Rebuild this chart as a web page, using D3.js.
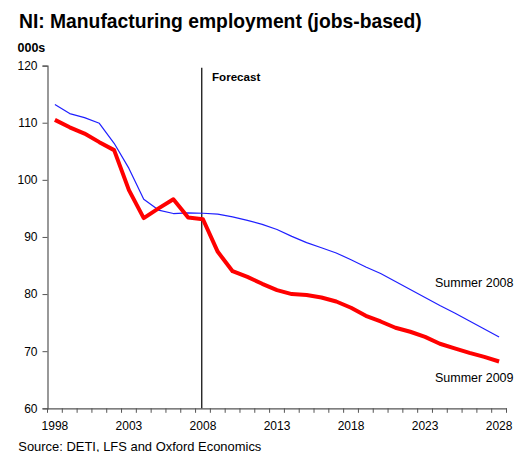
<!DOCTYPE html>
<html>
<head>
<meta charset="utf-8">
<script src="https://cdn.jsdelivr.net/npm/d3@7"></script>
<style>
  html, body { margin: 0; padding: 0; background: #fff; }
  svg { display: block; font-family: "Liberation Sans", Arial, sans-serif; }
</style>
</head>
<body>
<svg id="chart" width="519" height="452"></svg>
<script>
// Northern Ireland manufacturing employment, thousands of jobs
const years = [1998, 1999, 2000, 2001, 2002, 2003, 2004, 2005, 2006, 2007,
               2008, 2009, 2010, 2011, 2012, 2013, 2014, 2015, 2016, 2017,
               2018, 2019, 2020, 2021, 2022, 2023, 2024, 2025, 2026, 2027, 2028];

const summer2008 = [113.2, 111.6, 110.9, 109.9, 106.4, 102.0, 96.6, 94.7, 94.1, 94.2,
                    94.15, 94.0, 93.5, 92.9, 92.2, 91.3, 90.1, 89.0, 88.1, 87.2,
                    86.0, 84.75, 83.6, 82.2, 80.8, 79.4, 78.0, 76.7, 75.3, 73.9, 72.5];

const summer2009 = [110.5, 109.2, 108.1, 106.6, 105.2, 98.2, 93.3, 95.0, 96.6, 93.4,
                    93.1, 87.4, 84.0, 83.0, 81.8, 80.7, 80.0, 79.85, 79.4, 78.7,
                    77.6, 76.2, 75.2, 74.1, 73.4, 72.5, 71.3, 70.5, 69.7, 69.0, 68.2];

const yTicks = [60, 70, 80, 90, 100, 110, 120];
const xLabelYears = [1998, 2003, 2008, 2013, 2018, 2023, 2028];
const forecastYear = 2008;

const svg = d3.select("#chart");

const plotLeft = 47.5, plotRight = 506.5, plotTop = 65.6, plotBottom = 408.3;

const x = d3.scaleBand().domain(years).range([plotLeft, plotRight]).padding(0);
const y = d3.scaleLinear().domain([60, 120]).range([plotBottom, plotTop]);
const cx = d => x(d) + x.bandwidth() / 2;

// Title and unit
svg.append("text")
  .attr("x", 19).attr("y", 28)
  .attr("font-size", 19.3).attr("font-weight", "bold").attr("fill", "#000")
  .text("NI: Manufacturing employment (jobs-based)");

svg.append("text")
  .attr("x", 17.5).attr("y", 52.3)
  .attr("font-size", 12.5).attr("font-weight", "bold").attr("fill", "#000")
  .text("000s");

// Y axis
const yAxis = svg.append("g")
  .attr("transform", `translate(${plotLeft},0)`)
  .call(d3.axisLeft(y).tickValues(yTicks).tickSize(5).tickPadding(5));
yAxis.select(".domain").attr("stroke", "#555").attr("stroke-width", 1.2);
yAxis.selectAll(".tick line").attr("stroke", "#555");
yAxis.selectAll(".tick text")
  .attr("font-size", 12).attr("fill", "#000")
  .attr("font-family", "Liberation Sans, Arial, sans-serif");

// X axis: labels every five years, ticks between categories
const xAxis = svg.append("g")
  .attr("transform", `translate(0,${plotBottom})`)
  .call(d3.axisBottom(x).tickValues(xLabelYears).tickSize(0).tickPadding(13));
xAxis.select(".domain").attr("stroke", "#555").attr("stroke-width", 1.2);
xAxis.selectAll(".tick text")
  .attr("font-size", 12).attr("fill", "#000")
  .attr("font-family", "Liberation Sans, Arial, sans-serif");

const edges = years.map(d => x(d)).concat([x(years[years.length - 1]) + x.bandwidth()]);
xAxis.selectAll("line.cat-tick")
  .data(edges)
  .join("line")
  .attr("class", "cat-tick")
  .attr("x1", d => d).attr("x2", d => d)
  .attr("y1", 0).attr("y2", 4.5)
  .attr("stroke", "#555").attr("stroke-width", 1);

// Forecast divider
svg.append("line")
  .attr("x1", cx(forecastYear) - 1.2).attr("x2", cx(forecastYear) - 1.2)
  .attr("y1", 67.7).attr("y2", plotBottom)
  .attr("stroke", "#000").attr("stroke-width", 1.2);

svg.append("text")
  .attr("x", 212).attr("y", 81.3)
  .attr("font-size", 11.6).attr("font-weight", "bold").attr("fill", "#000")
  .text("Forecast");

// Series lines
const line = d3.line().x((d, i) => cx(years[i])).y(d => y(d));

svg.append("path")
  .datum(summer2008)
  .attr("d", line)
  .attr("fill", "none")
  .attr("stroke", "#1f1fff")
  .attr("stroke-width", 1.2)
  .attr("stroke-linejoin", "round");

svg.append("path")
  .datum(summer2009)
  .attr("d", line)
  .attr("fill", "none")
  .attr("stroke", "#ff0000")
  .attr("stroke-width", 4)
  .attr("stroke-linejoin", "round")
  .attr("stroke-linecap", "butt");

// Series labels
svg.append("text")
  .attr("x", 435).attr("y", 287.3)
  .attr("font-size", 12.5).attr("fill", "#000")
  .text("Summer 2008");

svg.append("text")
  .attr("x", 435).attr("y", 381.7)
  .attr("font-size", 12.5).attr("fill", "#000")
  .text("Summer 2009");

// Source note
svg.append("text")
  .attr("x", 18.3).attr("y", 450.5)
  .attr("font-size", 12.95).attr("fill", "#000")
  .text("Source: DETI, LFS and Oxford Economics");
</script>
</body>
</html>
